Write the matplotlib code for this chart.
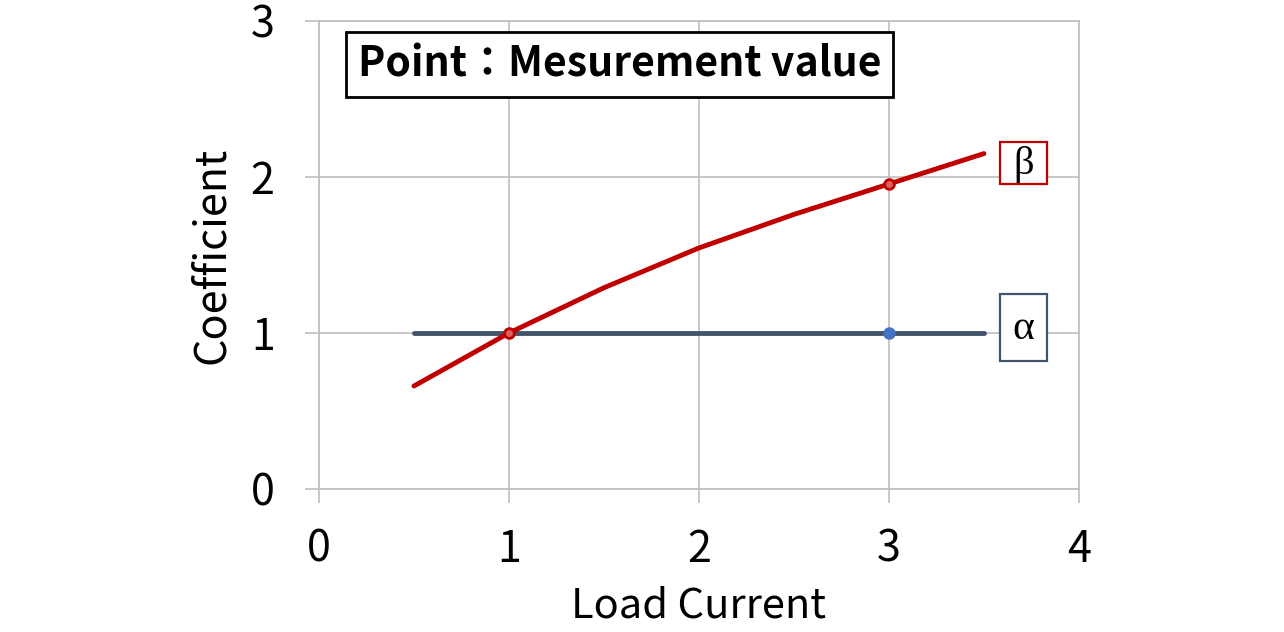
import matplotlib.pyplot as plt
from matplotlib.patches import Rectangle

plt.rcParams['font.family'] = ['Noto Sans CJK JP', 'DejaVu Sans']

# data
beta_x = [0.5, 1.0, 1.5, 2.0, 2.5, 3.0, 3.5]
beta_y = [0.66, 1.0, 1.29, 1.545, 1.76, 1.955, 2.15]
alpha_x = [0.5, 3.5]
alpha_y = [1.0, 1.0]
meas_x = [1, 3]
beta_meas = [1.0, 1.955]
alpha_meas = [1.0]
alpha_meas_x = [3]
ticks = [0, 1, 2, 3, 4]
yticks = [0, 1, 2, 3]

fig = plt.figure(figsize=(12.84, 6.32), dpi=100)
ax = fig.add_axes([0.2484, 0.2263, 0.5919, 0.7405])

ax.plot(alpha_x, alpha_y, color='#44546A', lw=3.5, solid_capstyle='round', zorder=3)
ax.plot(beta_x, beta_y, color='#C00000', lw=3.5, solid_capstyle='round', zorder=4)
ax.plot(alpha_meas_x, alpha_meas, 'o', color='#4472C4', ms=8, zorder=5)
ax.plot(meas_x, beta_meas, 'o', mfc='#E06060', mec='#C00000', mew=2, ms=7, zorder=6)

ax.set_xlim(0, 4)
ax.set_ylim(0, 3)
ax.set_xticks(ticks)
ax.set_yticks(yticks)
ax.grid(True, color='#BFBFBF', lw=1.2)
for s in ax.spines.values():
    s.set_color('#BFBFBF')
    s.set_linewidth(1.2)
ax.tick_params(length=10, width=1.2, color='#BFBFBF', labelsize=31)
ax.tick_params(axis='x', pad=18)
ax.tick_params(axis='y', pad=22)
ax.set_xlabel('Load Current', fontsize=30, labelpad=10)
ax.set_ylabel('Coefficient', fontsize=31, labelpad=12)

ax.text(0.205, 2.72, 'Point：Mesurement value', fontsize=29.5, fontweight='bold',
        va='center', ha='left', zorder=7,
        bbox=dict(boxstyle='square,pad=0.28', fc='white', ec='black', lw=2))

# label boxes for the two curves
ax.add_patch(Rectangle((3.584, 1.955), 0.248, 0.269, fc='white', ec='#C00000',
                       lw=1.6, clip_on=False, zorder=7))
ax.text(3.708, 2.08, 'β', fontsize=29, family=['Liberation Serif'], ha='center',
        va='center', zorder=8)
ax.add_patch(Rectangle((3.584, 0.821), 0.248, 0.429, fc='white', ec='#44546A',
                       lw=1.6, clip_on=False, zorder=7))
ax.text(3.708, 1.03, 'α', fontsize=30, family=['Liberation Serif'], ha='center',
        va='center', zorder=8)

fig.savefig('out.png', dpi=100)
